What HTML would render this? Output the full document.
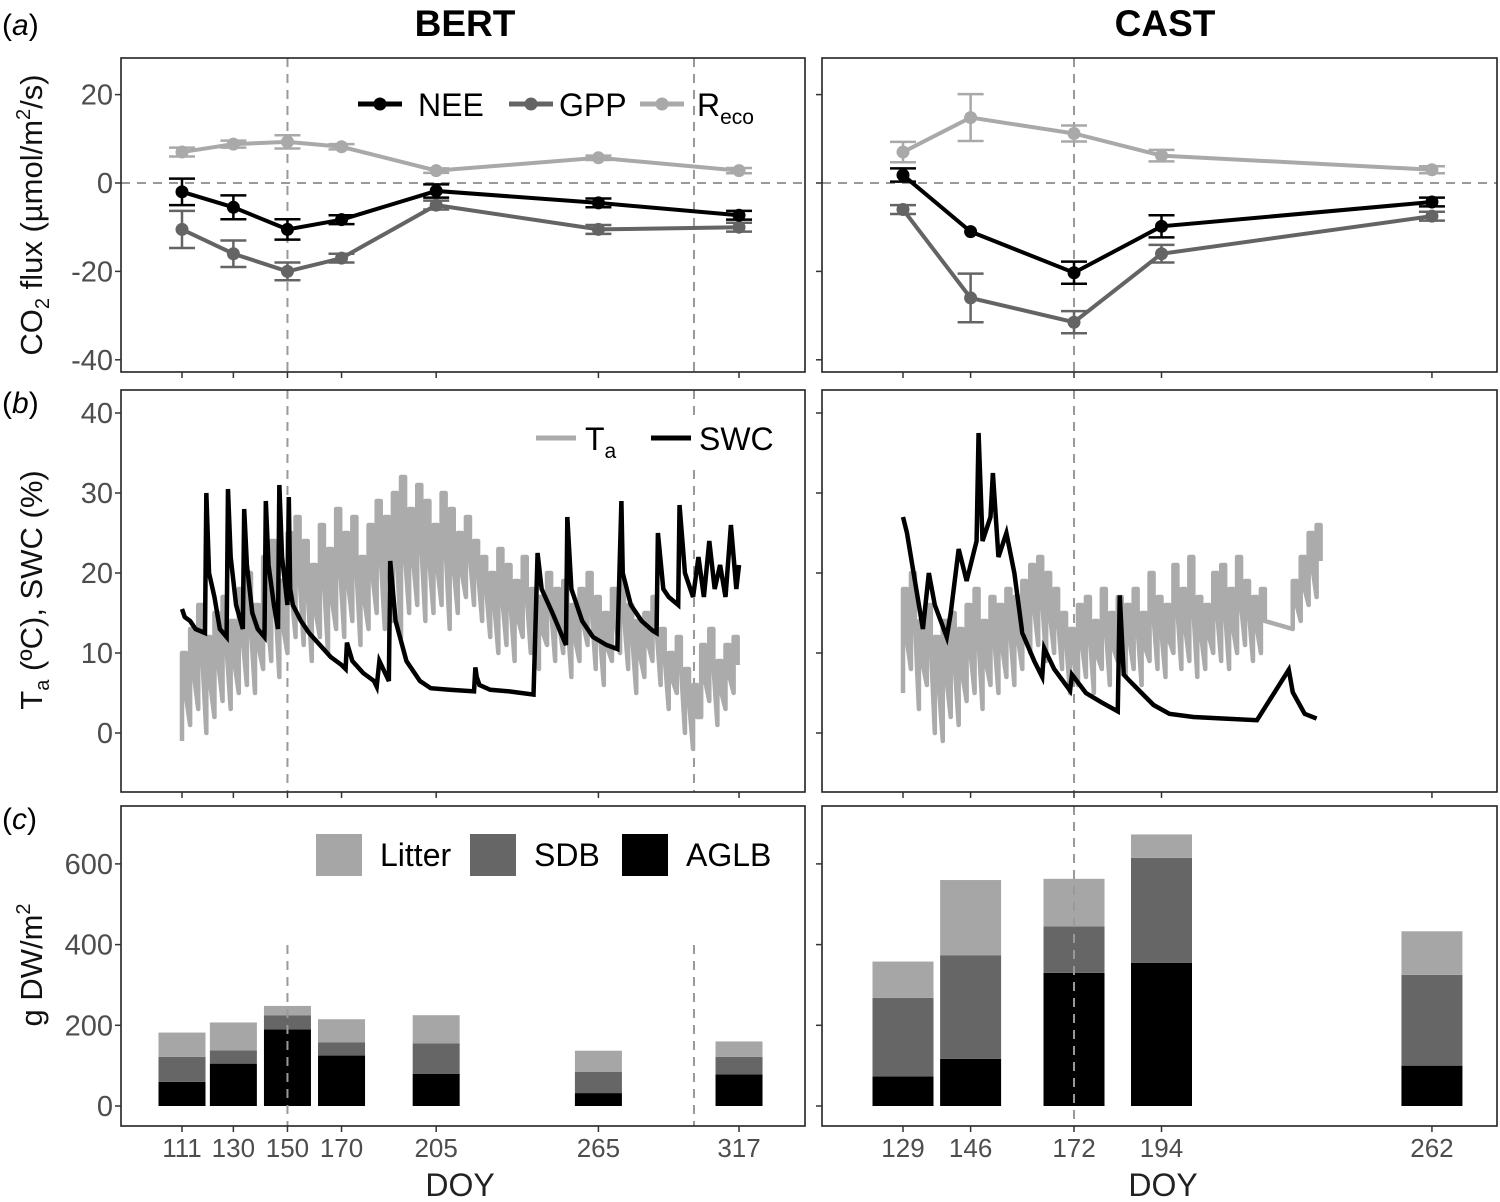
<!DOCTYPE html>
<html><head><meta charset="utf-8"><style>
html,body{margin:0;padding:0;background:#fff}
svg{display:block;font-family:"Liberation Sans",Arial,sans-serif}
</style></head><body>
<svg id="fig" width="1500" height="1202" viewBox="0 0 1500 1202"></svg>
<script>
// ---------- data ----------
const leftDoy=[111,130,150,170,205,265,317];
const leftNEE=[-2,-5.5,-10.5,-8.3,-1.8,-4.5,-7.3];
const leftNEEerr=[3,2.7,2.3,1,1.5,1,1];
const leftGPP=[-10.5,-16,-20,-17,-5,-10.5,-10];
const leftGPPerr=[4.2,3,2,1,1,1,1];
const leftReco=[7,8.8,9.3,8.2,2.8,5.7,2.8];
const leftRecoErr=[1,0.8,1.5,0.6,0.5,0.5,0.6];
const rightDoy=[129,146,172,194,262];
const rightNEE=[1.8,-11,-20.3,-9.8,-4.3];
const rightNEEerr=[1.5,0,2.5,2.5,1];
const rightGPP=[-6,-26,-31.5,-16,-7.5];
const rightGPPerr=[1,5.5,2.5,2,1];
const rightReco=[7,14.8,11.2,6.2,3];
const rightRecoErr=[2.3,5.3,1.8,1.3,0.8];
// panel b
const taLmin=[-1,1,3,0,2,4,3,5,6,5,8,9,7,10,12,11,9,12,10,13,12,14,11,13,15,13,14,12,15,16,14,15,16,13,15,17,16,14,12,10,11,9,12,10,8,11,9,10,7,9,11,8,6,9,10,8,5,7,9,6,3,5,0,-2,2,4,1,3,5];
const taLmax=[10,13,16,12,15,17,14,18,20,16,22,24,19,25,27,24,21,26,23,28,25,27,22,26,29,27,30,32,28,31,29,26,30,28,25,27,24,22,20,23,21,19,22,18,17,20,18,19,16,18,20,17,15,18,19,16,14,15,17,13,10,12,8,6,11,13,9,11,12];
const swcLdoy=[111,112,114,116,119.5,120,121,123,125,127.5,128,129,131,133.5,134,135,137,139,141.5,142,143,145,146.5,147,148,150,150.5,151,152,155,158,162,166,170,171.5,172,174,178,182,183,184,187.5,188,190,194,199,203,210,219,219.5,220,221,225,232,241,242.5,244,248,253,253.5,255,259,263,268,272,273.5,274,277,281,285,286.5,287,289,291,294.5,295,297,300,302,304,306,308,310,312,314,316,317];
const swcLval=[15.5,14.5,14,13,12.5,30,20,17,13,12,30.5,22,16,13,28,21,15,13,12,29,21,16,13,31,22,16,29.5,18,16,14,12.5,11,9.5,8.5,8,11.3,9,7.5,6.5,5.8,9,6.5,21.5,14,9,6.5,5.6,5.4,5.2,8.2,7,6,5.4,5.2,4.8,22.5,18,15,11,27,18,14,12,11,10.5,29,20,16,14,12.8,12.5,25,18,17,16,28.5,20,17,22,17,24,18,21,17,26,18,21,20.5];
const taRdoy=[129,131,133,135,137,139,141,143,145,147,149,151,153,155,157,159,161,163,165,167,169,171,173,175,177,179,181,183,185,187,189,191,193,195,197,199,201,203,205,207,209,211,213,215,217,219,227,229,231,233];
const taRmin=[5,8,3,6,0,-1,2,1,4,5,3,6,5,7,6,8,10,11,9,10,8,5,6,7,5,8,6,9,7,8,6,9,8,7,10,8,9,7,8,10,9,8,10,11,9,10,13,14,16,17];
const taRmax=[18,20,14,16,12,14,15,13,16,18,14,17,16,18,17,19,21,22,20,18,15,13,16,17,14,18,15,17,16,18,15,20,17,16,21,18,22,17,16,20,21,18,22,19,17,18,19,22,25,26];
const swcRdoy=[129,130,132,134,135.5,137,140,141,143,145,146,147.5,148,149,151,151.6,153,155,157,159,162,164,164.5,167,171,171.5,175,179,183,183.5,184.5,186,189,192,196,202,210,218,226,227,230,233];
const swcRval=[27,25,19,13,20,16,12,15,23,19,21,24,37.5,24,27,32.5,22,25,20,12.5,9,7,10.6,8,5.3,7.3,5,3.8,2.7,17.2,7.3,6.5,5,3.5,2.4,2,1.8,1.6,7.9,5.1,2.4,1.8];
// panel c
const barLdoy=[111,130,150,170,205,265,317];
const aglbL=[60,105,190,125,80,32,78];
const sdbL=[62,33,35,33,75,53,44];
const litterL=[60,69,23,57,70,52,38];
const barRdoy=[129,146,172,194,262];
const aglbR=[73,117,330,355,100];
const sdbR=[195,256,115,260,225];
const litterR=[90,187,118,58,108];
const tickA=[-40,-20,0,20];
const tickB=[0,10,20,30,40];
const tickC=[0,200,400,600];

// ---------- helpers ----------
const NS="http://www.w3.org/2000/svg";
const svg=document.getElementById('fig');
function el(tag,attrs,parent,text){const e=document.createElementNS(NS,tag);for(const k in attrs)e.setAttribute(k,attrs[k]);if(text!==undefined)e.textContent=text;(parent||svg).appendChild(e);return e;}
const xL=d=>182+(d-111)*2.704;
const xR=d=>903+(d-129)*3.977;
const yA=v=>183-v*4.42;
const yB=v=>733-v*8;
const yC=v=>1106-v*0.4035;
const P={L:[121,805],R:[822,1497]};
const rowsY={a:[58,372],b:[390,792],c:[806,1126]};
const GRAY="#4d4d4d";

// titles
let t=el('text',{x:465,y:36,'font-size':37,'font-weight':'bold','text-anchor':'middle'},svg,'BERT');

t=el('text',{x:1165,y:36,'font-size':37,'font-weight':'bold','text-anchor':'middle'},svg,'CAST');

[['(a)',35,'panel-label-a'],['(b)',413,'panel-label-b'],['(c)',829,'panel-label-c']].forEach(p=>{
  const g=el('text',{x:2,y:p[1],'font-size':30},svg);
  
  el('tspan',{},g,'(');el('tspan',{'font-style':'italic'},g,p[0][1]);el('tspan',{},g,')');
});

function panelFrame(side,row,name){
  const [x0,x1]=P[side],[y0,y1]=rowsY[row];
  const r=el('rect',{x:x0,y:y0,width:x1-x0,height:y1-y0,fill:'none',stroke:'#222','stroke-width':1.6});
  
}
function yTicks(side,row,ticks,yf,labels){
  const x0=P[side][0];
  ticks.forEach(v=>{
    el('line',{x1:x0-6,x2:x0,y1:yf(v),y2:yf(v),stroke:'#333','stroke-width':1.5});
    if(labels){const tt=el('text',{x:x0-8,y:yf(v)+10,'font-size':29,'text-anchor':'end',fill:GRAY},svg,String(v));
      }
  });
}
function xTicks(side,row,doys,xf,labels){
  const y1=rowsY[row][1];
  doys.forEach(d=>{
    el('line',{x1:xf(d),x2:xf(d),y1:y1,y2:y1+6,stroke:'#333','stroke-width':1.5});
    if(labels){const tt=el('text',{x:xf(d),y:y1+31,'font-size':26,'text-anchor':'middle',fill:GRAY},svg,String(d));
      }
  });
}
function vdash(x,y0,y1){el('line',{x1:x,x2:x,y1:y0,y2:y1,stroke:'#999','stroke-width':2,'stroke-dasharray':'9,7'});}

// ---------- panel a ----------
function fluxPanel(side,xf,doys,series){
  const [x0,x1]=P[side];
  el('line',{x1:x0,x2:x1,y1:yA(0),y2:yA(0),stroke:'#999','stroke-width':2,'stroke-dasharray':'9,7'});
  series.forEach(s=>{
    const g=el('g',{});
    doys.forEach((d,i)=>{
      const x=xf(d),v=s.vals[i],e=s.err[i];
      if(e>0){
        el('line',{x1:x,x2:x,y1:yA(v+e),y2:yA(v-e),stroke:s.c,'stroke-width':2.5},g);
        el('line',{x1:x-13,x2:x+13,y1:yA(v+e),y2:yA(v+e),stroke:s.c,'stroke-width':2.5},g);
        el('line',{x1:x-13,x2:x+13,y1:yA(v-e),y2:yA(v-e),stroke:s.c,'stroke-width':2.5},g);
      }
    });
    el('polyline',{points:doys.map((d,i)=>xf(d)+','+yA(s.vals[i])).join(' '),fill:'none',stroke:s.c,'stroke-width':4},g);
    doys.forEach((d,i)=>{const c=el('circle',{cx:xf(d),cy:yA(s.vals[i]),r:6.5,fill:s.c},g);
      });
  });
}
vdash(xL(150),rowsY.a[0],rowsY.a[1]);vdash(694,rowsY.a[0],rowsY.a[1]);
vdash(xR(172),rowsY.a[0],rowsY.a[1]);
fluxPanel('L',xL,leftDoy,[
 {name:'reco',vals:leftReco,err:leftRecoErr,c:'#a9a9a9'},
 {name:'gpp',vals:leftGPP,err:leftGPPerr,c:'#646464'},
 {name:'nee',vals:leftNEE,err:leftNEEerr,c:'#000'}]);
fluxPanel('R',xR,rightDoy,[
 {name:'reco',vals:rightReco,err:rightRecoErr,c:'#a9a9a9'},
 {name:'gpp',vals:rightGPP,err:rightGPPerr,c:'#646464'},
 {name:'nee',vals:rightNEE,err:rightNEEerr,c:'#000'}]);
// legend a
(function(){
  const g=el('g',{});
  [['NEE','#000',358,418],['GPP','#646464',509,559],['R','#a9a9a9',640,697]].forEach(L=>{
    el('line',{x1:L[2],x2:L[2]+44,y1:104,y2:104,stroke:L[1],'stroke-width':5},g);
    el('circle',{cx:L[2]+22,cy:104,r:6.5,fill:L[1]},g);
    const tt=el('text',{x:L[3],y:116,'font-size':32},g);
    
    el('tspan',{},tt,L[0]);
    if(L[0]==='R')el('tspan',{'font-size':21,dy:8},tt,'eco');
  });
})();

// ---------- panel b ----------
vdash(xL(150),rowsY.b[0],rowsY.b[1]);vdash(694,rowsY.b[0],rowsY.b[1]);
vdash(xR(172),rowsY.b[0],rowsY.b[1]);
function taPath(doys,mins,maxs,xf,half){
  let s='';
  doys.forEach((d,i)=>{
    const xa=xf(d),xb=xf(d+half);
    s+=(i===0?'M':' L')+xa+','+yB(mins[i])+' L'+xa+','+yB(maxs[i])+' L'+xb+','+yB(maxs[i])+' L'+xb+','+yB((mins[i]+maxs[i])/2);
  });
  return s;
}
function stepPath(doys,vals,xf){
  let s='M'+xf(doys[0])+','+yB(vals[0]);
  for(let i=1;i<doys.length;i++)s+=' L'+xf(doys[i])+','+yB(vals[i]);
  return s;
}
const taLdoy=taLmin.map((_,i)=>111+i*3);
let pl=el('path',{d:taPath(taLdoy,taLmin,taLmax,xL,1.5),fill:'none',stroke:'#ababab','stroke-width':4.5,'stroke-linejoin':'round'});

pl=el('path',{d:stepPath(swcLdoy,swcLval,xL),fill:'none',stroke:'#000','stroke-width':4.5});

pl=el('path',{d:taPath(taRdoy,taRmin,taRmax,xR,1),fill:'none',stroke:'#ababab','stroke-width':4.5,'stroke-linejoin':'round'});

pl=el('path',{d:stepPath(swcRdoy,swcRval,xR),fill:'none',stroke:'#000','stroke-width':4.5});

(function(){
  const g=el('g',{});
  el('rect',{x:530,y:418,width:272,height:46,fill:'#fff'},g);
  el('line',{x1:536,x2:576,y1:438,y2:438,stroke:'#ababab','stroke-width':5},g);
  const t1=el('text',{x:585,y:450,'font-size':32},g);el('tspan',{},t1,'T');el('tspan',{'font-size':21,dy:8},t1,'a');
  el('line',{x1:651,x2:691,y1:438,y2:438,stroke:'#000','stroke-width':5},g);
  el('text',{x:699,y:450,'font-size':32},g,'SWC');
})();

// ---------- panel c ----------
function bars(doys,a,s,l,xf,w,side){
  doys.forEach((d,i)=>{
    const x=xf(d)-w/2;
    const g=el('g',{});
    const r1=el('rect',{x:x,y:yC(a[i]),width:w,height:yC(0)-yC(a[i]),fill:'#000'},g);
    
    const r2=el('rect',{x:x,y:yC(a[i]+s[i]),width:w,height:yC(a[i])-yC(a[i]+s[i]),fill:'#666'},g);
    
    const r3=el('rect',{x:x,y:yC(a[i]+s[i]+l[i]),width:w,height:yC(a[i]+s[i])-yC(a[i]+s[i]+l[i]),fill:'#a6a6a6'},g);
    
  });
}
bars(barLdoy,aglbL,sdbL,litterL,xL,47,'bert');
bars(barRdoy,aglbR,sdbR,litterR,xR,61,'cast');
vdash(xL(150),945,rowsY.c[1]);vdash(694,945,rowsY.c[1]);vdash(xR(172),rowsY.c[0],rowsY.c[1]);
(function(){
  const g=el('g',{});
  [['Litter','#a6a6a6',316,380],['SDB','#666',470,534],['AGLB','#000',622,686]].forEach(L=>{
    el('rect',{x:L[2],y:834,width:46,height:42,fill:L[1]},g);
    const tt=el('text',{x:L[3],y:866,'font-size':32},g,L[0]);
    
  });
})();

// frames & ticks
['a','b','c'].forEach(r=>{panelFrame('L',r,'panel-'+r+'-bert');panelFrame('R',r,'panel-'+r+'-cast');});
yTicks('L','a',tickA,yA,true);yTicks('R','a',tickA,yA,false);
yTicks('L','b',tickB,yB,true);yTicks('R','b',tickB,yB,false);
yTicks('L','c',tickC,yC,true);yTicks('R','c',tickC,yC,false);
['a','b'].forEach(r=>{xTicks('L',r,leftDoy,xL,false);xTicks('R',r,rightDoy,xR,false);});
xTicks('L','c',leftDoy,xL,true);xTicks('R','c',rightDoy,xR,true);
t=el('text',{x:460,y:1196,'font-size':32,'text-anchor':'middle',fill:'#222'},svg,'DOY');

t=el('text',{x:1163,y:1196,'font-size':32,'text-anchor':'middle',fill:'#222'},svg,'DOY');


// y axis titles
function ytitle(cy,name,build){
  const tt=el('text',{transform:'translate(42,'+cy+') rotate(-90)','font-size':31,'text-anchor':'middle',fill:'#111'},svg);
  build(tt);
}
ytitle(215,'y-axis-title-co2',tt=>{el('tspan',{},tt,'CO');el('tspan',{'font-size':20,dy:7},tt,'2');el('tspan',{dy:-7},tt,' flux (µmol/m');el('tspan',{'font-size':20,dy:-12},tt,'2');el('tspan',{dy:12},tt,'/s)');});
ytitle(590,'y-axis-title-climate',tt=>{el('tspan',{},tt,'T');el('tspan',{'font-size':20,dy:7},tt,'a');el('tspan',{dy:-7},tt,' (ºC), SWC (%)');});
ytitle(965,'y-axis-title-biomass',tt=>{el('tspan',{},tt,'g DW/m');el('tspan',{'font-size':20,dy:-12},tt,'2');});
</script>
</body></html>
